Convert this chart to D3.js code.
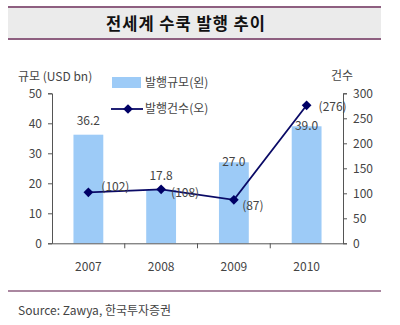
<!DOCTYPE html>
<html><head><meta charset="utf-8">
<script src="https://cdn.jsdelivr.net/npm/d3@7"></script>
<style>body{margin:0;background:#fff}svg{display:block}text{font-family:"Noto Sans CJK KR","Noto Sans",sans-serif}</style>
</head><body><svg id="c" width="400" height="325"></svg>
<script>
const years = ["2007","2008","2009","2010"];
const amount = [36.2, 17.8, 27.0, 39.0];
const counts = [102, 108, 87, 276];
const leftTicks = [0,10,20,30,40,50];
const rightTicks = [0,50,100,150,200,250,300];
const title = "전세계 수쿡 발행 추이";
const source = "Source: Zawya, 한국투자증권";

const svg = d3.select("#c");
const txt = "#444";
// title box
svg.append("rect").attr("x",8).attr("y",7).attr("width",373).attr("height",32).attr("fill","#ebebeb");
svg.append("line").attr("x1",8).attr("x2",381).attr("y1",7).attr("y2",7).attr("stroke","#8e5f80").attr("stroke-width",2);
svg.append("line").attr("x1",8).attr("x2",381).attr("y1",39).attr("y2",39).attr("stroke","#8e5f80").attr("stroke-width",2);
svg.append("text").attr("x",186).attr("y",30).attr("text-anchor","middle").attr("font-size",16.5).attr("font-weight","bold")
  .attr("letter-spacing",1).attr("fill","#111").text(title);

const x0 = 52, x1 = 343, y0 = 243.3, y1 = 93.3;
const x = d3.scaleBand().domain(years).range([x0,x1]).paddingInner(0.59).paddingOuter(0.295);
const xb = d3.scaleBand().domain(years).range([x0,x1]);
const yl = d3.scaleLinear().domain([0,50]).range([y0,y1]);
const yr = d3.scaleLinear().domain([0,300]).range([y0,y1]);

// bars
svg.selectAll(".bar").data(years).enter().append("rect")
  .attr("x",d=>x(d)).attr("width",x.bandwidth())
  .attr("y",(d,i)=>yl(amount[i])).attr("height",(d,i)=>y0-yl(amount[i]))
  .attr("fill","#9dcbf7");

// axes
const gL = svg.append("g").attr("transform",`translate(${x0},0)`)
  .call(d3.axisLeft(yl).tickValues(leftTicks).tickSize(4).tickFormat(d3.format("d")));
const gR = svg.append("g").attr("transform",`translate(${x1},0)`)
  .call(d3.axisRight(yr).tickValues(rightTicks).tickSize(4).tickFormat(d3.format("d")));
const gX = svg.append("g").attr("transform",`translate(0,${y0})`)
  .call(d3.axisBottom(xb).tickSize(0).tickPadding(19));
[gL,gR,gX].forEach(g=>{
  g.selectAll("path,line").attr("stroke","#555");
  g.selectAll("text").attr("fill",txt).attr("font-size",12).attr("font-family","'Noto Sans','Noto Sans CJK KR',sans-serif");
});
gL.selectAll("text").attr("dx",-3);
gR.selectAll("text").attr("dx",3);
gX.select(".domain").attr("stroke","#555");
// band boundary ticks
gX.selectAll(".bt").data(years.slice(1)).enter().append("line")
  .attr("x1",d=>xb(d)).attr("x2",d=>xb(d)).attr("y1",0).attr("y2",5).attr("stroke","#555");

// bar labels
const labelDy = [-10, -10, 4, 4];
svg.selectAll(".bl").data(years).enter().append("text")
  .attr("x",d=>x(d)+x.bandwidth()/2).attr("y",(d,i)=>yl(amount[i])+labelDy[i])
  .attr("text-anchor","middle").attr("font-size",12).attr("fill",txt)
  .attr("font-family","'Noto Sans',sans-serif")
  .text((d,i)=>amount[i].toFixed(1));

// line
const cx = d=>xb(d)+xb.bandwidth()/2;
svg.append("path").datum(years)
  .attr("d",d3.line().x(cx).y((d,i)=>yr(counts[i])))
  .attr("fill","none").attr("stroke","#0a0a66").attr("stroke-width",1.8);
const diamond = d3.symbol().type(d3.symbolDiamond2).size(60);
svg.selectAll(".pt").data(years).enter().append("path")
  .attr("d",diamond).attr("transform",(d,i)=>`translate(${cx(d)},${yr(counts[i])})`)
  .attr("fill","#000066");
const lOff = [[27,-5],[24,4],[19,6],[26,2]];
svg.selectAll(".ll").data(years).enter().append("text")
  .attr("x",(d,i)=>cx(d)+lOff[i][0]).attr("y",(d,i)=>yr(counts[i])+lOff[i][1]+4)
  .attr("text-anchor","middle").attr("font-size",12).attr("fill",txt)
  .attr("font-family","'Noto Sans',sans-serif")
  .text((d,i)=>`(${counts[i]})`);

// axis titles
svg.append("text").attr("x",18).attr("y",81).attr("font-size",12).attr("fill",txt).text("규모 (USD bn)");
svg.append("text").attr("x",331).attr("y",80).attr("font-size",12).attr("fill",txt).text("건수");

// legend
svg.append("rect").attr("x",112).attr("y",77).attr("width",29).attr("height",11).attr("fill","#9dcbf7");
svg.append("text").attr("x",145).attr("y",87).attr("font-size",12).attr("fill",txt).text("발행규모(왼)");
svg.append("line").attr("x1",111).attr("x2",143).attr("y1",109).attr("y2",109).attr("stroke","#0a0a66").attr("stroke-width",1.8);
svg.append("path").attr("d",diamond).attr("transform","translate(128,109)").attr("fill","#000066");
svg.append("text").attr("x",145).attr("y",113).attr("font-size",12).attr("fill",txt).text("발행건수(오)");

// bottom line + source
svg.append("line").attr("x1",8).attr("x2",381).attr("y1",291).attr("y2",291).attr("stroke","#8e5f80").attr("stroke-width",1.5);
svg.append("text").attr("x",18).attr("y",315).attr("font-size",12).attr("fill",txt).text(source);
</script></body></html>
